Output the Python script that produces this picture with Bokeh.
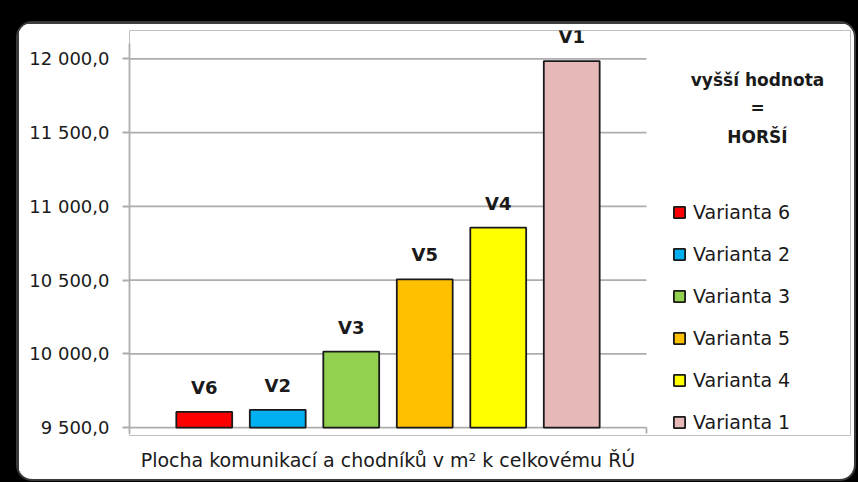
from bokeh.plotting import figure
from bokeh.models import (Range1d, FixedTicker, Legend, LegendItem,
                          Label, LabelSet, ColumnDataSource)
from bokeh.embed import file_html
from bokeh.resources import INLINE
from bokeh.core.properties import value

# ---- data ----
category = "Plocha komunikací a chodníků v m² k celkovému ŘÚ"
series_names = ["Varianta 6", "Varianta 2", "Varianta 3", "Varianta 5", "Varianta 4", "Varianta 1"]
bar_labels = ["V6", "V2", "V3", "V5", "V4", "V1"]
values = [9606, 9620, 10015, 10505, 10855, 11985]
colors = ["#FF0000", "#00B0F0", "#92D050", "#FFC000", "#FFFF00", "#E6B9B8"]
y_ticks = [9500, 10000, 10500, 11000, 11500, 12000]
y_tick_labels = ["9 500,0", "10 000,0", "10 500,0", "11 000,0", "11 500,0", "12 000,0"]
note_lines = ["vyšší hodnota", "=", "HORŠÍ"]

FONT = "DejaVu Sans"
TEXT = "#1a1a1a"
GRID = "#adadad"

n = len(values)
center = (n - 1) / 2
half_span = 3.517          # half width of the category area, in bar steps
x_lo = center - half_span
x_hi = center + half_span
y_axis_top = 12104
y_axis_bottom = 9459

p = figure(
    x_range=Range1d(x_lo, x_lo + 9.81),
    y_range=Range1d(9446, 12192),
    width=836, height=456, tools="",
    output_backend="svg", toolbar_location=None,
    min_border_left=111, min_border_right=4, min_border_top=7, min_border_bottom=44,
    background_fill_color="white", border_fill_color="white",
    outline_line_color=None,
    styles={"border-radius": "14px", "overflow": "hidden",
            "box-shadow": "0 0 0 2px #3a3a3a"},
)

# horizontal gridlines over the category area only, and the closing tick at its right end
p.hbar(y=y_ticks, left=x_lo, right=x_hi, height=0, fill_color=None,
       line_color=GRID, line_width=1.8)
p.vbar(x=[x_hi], bottom=y_axis_bottom, top=y_ticks[0], width=0, fill_color=None,
       line_color=GRID, line_width=1.8)

xs = list(range(n))
items = []
for i in range(n):
    src = ColumnDataSource(dict(x=[xs[i]], top=[values[i]], label=[bar_labels[i]]))
    r = p.vbar(x="x", top="top", bottom=y_ticks[0], width=0.76, source=src,
               fill_color=colors[i], line_color="#1a1a1a", line_width=1.8)
    items.append(LegendItem(label=series_names[i], renderers=[r]))
    p.add_layout(LabelSet(x="x", y="top", text="label", source=src,
                          text_align="center", text_baseline="bottom",
                          y_offset=14, text_font=value(FONT), text_font_size="18px",
                          text_font_style="bold", text_color=TEXT))

legend = Legend(items=items, location=(543, 2), orientation="vertical",
                glyph_width=14, glyph_height=14, label_standoff=7,
                label_height=18, spacing=20, padding=0, margin=0,
                border_line_color=None, background_fill_alpha=0,
                label_text_font=FONT, label_text_font_size="19px",
                label_text_color=TEXT)
p.add_layout(legend, "center")

for j, line in enumerate(note_lines):
    p.add_layout(Label(x=628, y=356 - j * 28.5, x_units="screen", y_units="screen",
                       text=line, text_align="center", text_baseline="middle",
                       text_font=FONT, text_font_size="17px", text_font_style="bold",
                       text_color=TEXT))

# axes
yticker = FixedTicker(ticks=y_ticks)
p.yaxis.ticker = yticker
p.yaxis.bounds = (y_axis_bottom, y_axis_top)
p.yaxis.major_label_overrides = dict(zip(y_ticks, y_tick_labels))
p.yaxis.major_label_text_font = FONT
p.yaxis.major_label_text_font_size = "18px"
p.yaxis.major_label_text_color = TEXT
p.yaxis.axis_line_color = GRID
p.yaxis.axis_line_width = 1.8
p.yaxis.major_tick_line_color = GRID
p.yaxis.major_tick_line_width = 1.8
p.yaxis.major_tick_out = 7
p.yaxis.major_tick_in = 0
p.yaxis.minor_tick_line_color = None
p.yaxis.major_label_standoff = 13

p.xaxis.ticker = FixedTicker(ticks=[center])
p.xaxis.major_label_overrides = {center: category}
p.xaxis.major_label_text_font = FONT
p.xaxis.major_label_text_font_size = "19px"
p.xaxis.major_label_text_color = TEXT
p.xaxis.axis_line_color = None
p.xaxis.major_tick_line_color = None
p.xaxis.minor_tick_line_color = None
p.xaxis.major_label_standoff = 7

p.xgrid.grid_line_color = None
p.ygrid.grid_line_color = None

html = file_html(p, INLINE)
k = html.rfind("<body>")
if k >= 0:
    html = (html[:k]
            + '<body style="background-color:#000000; margin:0; padding:23px 0 0 18px;">'
            + html[k + 6:])
open("out.html", "w").write(html)
